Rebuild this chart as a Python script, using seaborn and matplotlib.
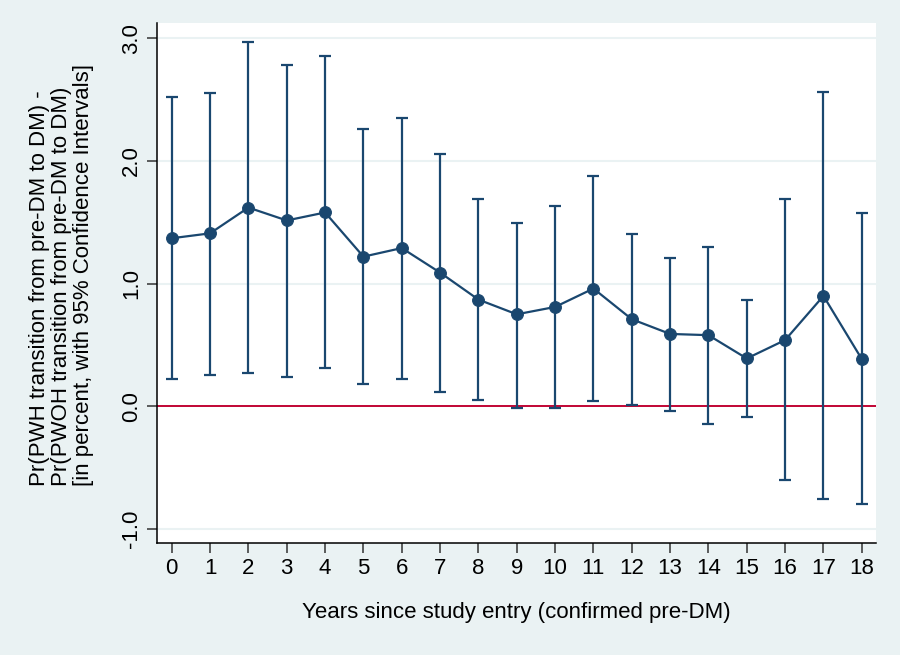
import numpy as np
import pandas as pd
import matplotlib
matplotlib.use("Agg")
import matplotlib.pyplot as plt
import seaborn as sns

# Values
years = list(range(19))
estimate = [1.37, 1.41, 1.62, 1.515, 1.58, 1.22, 1.29, 1.09, 0.87, 0.75,
            0.81, 0.96, 0.71, 0.59, 0.58, 0.39, 0.54, 0.90, 0.385]
ci_lower = [0.225, 0.253, 0.275, 0.242, 0.31, 0.179, 0.22, 0.117, 0.054, -0.011,
            -0.013, 0.043, 0.014, -0.035, -0.147, -0.084, -0.598, -0.759, -0.80]
ci_upper = [2.52, 2.55, 2.97, 2.78, 2.855, 2.26, 2.347, 2.058, 1.686, 1.498,
            1.629, 1.876, 1.403, 1.207, 1.302, 0.865, 1.686, 2.56, 1.574]
y_ticks = [-1.0, 0.0, 1.0, 2.0, 3.0]

df = pd.DataFrame({"year": years, "est": estimate, "lo": ci_lower, "hi": ci_upper})

navy = "#1a476f"
red = "#c10534"
bg = "#eaf2f3"

sns.set_theme(style="white")
plt.rcParams["font.family"] = ["Liberation Sans", "DejaVu Sans"]

fig = plt.figure(figsize=(9, 6.55), dpi=100, facecolor=bg)
ax = fig.add_axes([0.1748, 0.1714, 0.7985, 0.793])
ax.set_facecolor("white")

# light horizontal grid (Stata s2color style)
for yv in y_ticks:
    if yv != 0:
        ax.axhline(yv, color=bg, lw=1.5, zorder=0)
ax.axhline(0, color=red, lw=1.4, zorder=1)

ax.errorbar(df["year"], df["est"],
            yerr=[df["est"] - df["lo"], df["hi"] - df["est"]],
            fmt="none", ecolor=navy, elinewidth=1.6, capsize=4, capthick=1.6, zorder=2)
sns.lineplot(data=df, x="year", y="est", color=navy, lw=1.6, marker="o",
             markersize=8.5, markeredgecolor=navy, ax=ax, zorder=3)

ax.set_xlim(-0.376, 18.37)
ax.set_ylim(-1.112, 3.122)
ax.set_xticks(years)
ax.set_yticks(y_ticks)
ax.set_yticklabels([f"{v:.1f}" for v in y_ticks], rotation=90, va="center")

for s in ["top", "right"]:
    ax.spines[s].set_visible(False)
for s in ["left", "bottom"]:
    ax.spines[s].set_color("black")
    ax.spines[s].set_linewidth(1.1)

ax.tick_params(axis="both", which="major", direction="out", length=7, width=1.1,
               color="#333333", labelsize=16, labelcolor="black", pad=4,
               left=True, bottom=True)

ax.set_xlabel("Years since study entry (confirmed pre-DM)", fontsize=16, color="black")
ax.xaxis.set_label_coords(0.5, -0.115)
ax.set_ylabel("Pr(PWH transition from pre-DM to DM) -\n"
              "Pr(PWOH transition from pre-DM to DM)\n"
              "[in percent, with 95% Confidence Intervals]",
              fontsize=16, color="black", linespacing=1.08, multialignment="left")
ax.yaxis.set_label_coords(-0.088, 0.515)

fig.savefig("out.png", dpi=100, facecolor=bg)
